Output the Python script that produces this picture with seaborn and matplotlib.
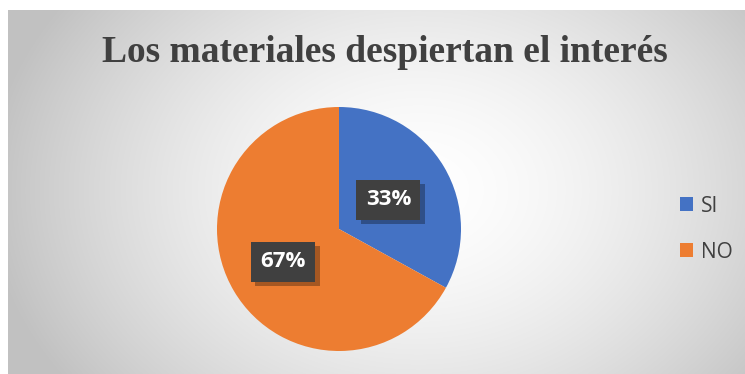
import numpy as np
import matplotlib
matplotlib.use("Agg")
import matplotlib.pyplot as plt
import matplotlib.patheffects as pe
import seaborn as sns
from matplotlib.patches import Rectangle

categories = ["SI", "NO"]
values = [33, 67]
title = "Los materiales despiertan el interés"

sns.set_theme(style="white")
plt.rcParams['font.family'] = ['Liberation Sans', 'DejaVu Sans']
colors = ["#4472C4", "#ED7D31"]

W, H = 745, 374
fig = plt.figure(figsize=(W / 100, H / 100), dpi=100)
fig.patch.set_facecolor("white")

# background panel with radial gradient
bg = fig.add_axes([8 / W, 0, (W - 8) / W, (H - 10) / H])
bg.set_axis_off()
yy, xx = np.mgrid[0:364, 0:737]
cx, cy = 410, 180
d = np.sqrt(((xx - cx) / 430.0) ** 2 + ((yy - cy) / 330.0) ** 2)
d = np.clip(d, 0, 1) ** 1.6
g = 1.0 - d * (1.0 - 0.76)
img = np.dstack([g, g, g])
bg.imshow(img, aspect="auto", extent=[0, 1, 0, 1], origin="upper")
bg.set_xlim(0, 1)
bg.set_ylim(0, 1)

# title
fig.text(385 / W, 1 - 53 / H, title, ha="center", va="center",
         fontsize=27, fontweight="bold", color="#404040",
         family=["Liberation Serif", "DejaVu Serif"])

# pie
pcx, pcy, r = 339, 229, 122
ax = fig.add_axes([(pcx - r) / W, (H - pcy - r) / H, 2 * r / W, 2 * r / H])
ax.set_facecolor("none")
wedges, _ = ax.pie(values, colors=colors, startangle=90, counterclock=False,
                   radius=1.0, wedgeprops=dict(linewidth=0))
ax.set_xlim(-1, 1)
ax.set_ylim(-1, 1)
ax.set_axis_off()

# data labels
total = float(sum(values))
start = 90.0
for i, v in enumerate(values):
    ang = start - 360.0 * v / total / 2
    start -= 360.0 * v / total
    rr = 0.47 if i == 0 else 0.53
    x, y = rr * np.cos(np.radians(ang)), rr * np.sin(np.radians(ang))
    t = ax.text(x, y, f"{v:.0f}%", ha="center", va="center", fontsize=16,
                fontweight="bold", color="white",
                family=["Open Sans", "DejaVu Sans"],
                bbox=dict(boxstyle="square,pad=0.42", fc="#404040", ec="none"))
    t.get_bbox_patch().set_path_effects(
        [pe.SimplePatchShadow(offset=(3, -3), shadow_rgbFace="black", alpha=0.3),
         pe.Normal()])

# legend
handles = [Rectangle((0, 0), 1, 1, fc=c, ec="none") for c in colors]
leg = fig.legend(handles, categories, loc="center left",
                 bbox_to_anchor=(680 / W, 1 - 229 / H), frameon=False,
                 fontsize=15, handlelength=0.62, handleheight=0.62,
                 labelspacing=1.2, handletextpad=0.4, borderpad=0,
                 borderaxespad=0)
for t in leg.get_texts():
    t.set_color("#404040")
    t.set_family(["Open Sans", "DejaVu Sans"])

fig.savefig("out.png", dpi=100, facecolor="white")
